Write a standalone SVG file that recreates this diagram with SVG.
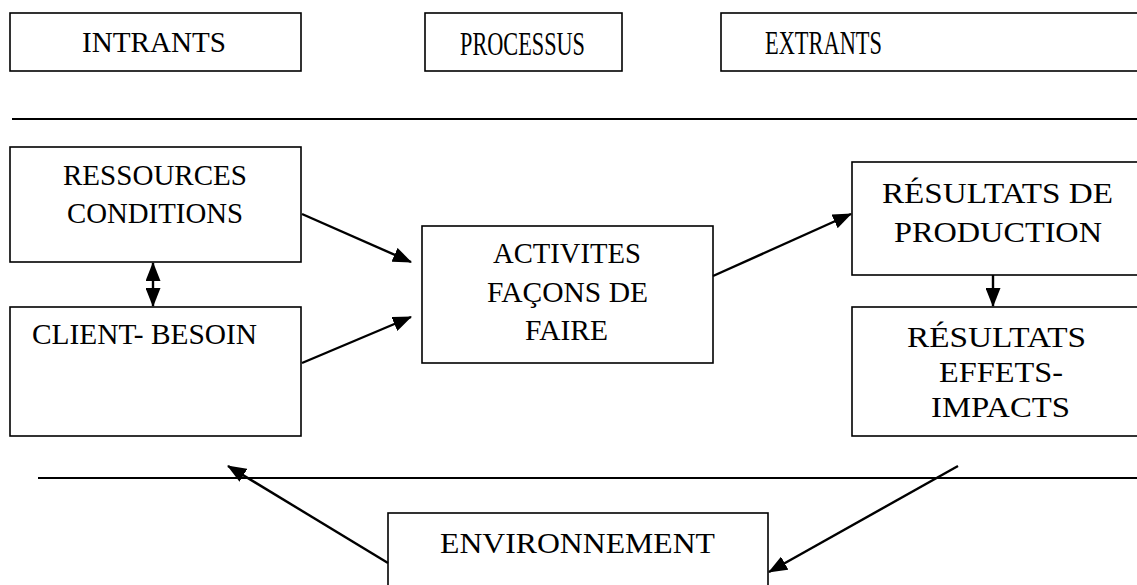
<svg xmlns="http://www.w3.org/2000/svg" width="1137" height="585" viewBox="0 0 1137 585">
  <style>
    .box { fill: #ffffff; stroke: #000000; stroke-width: 1.6; }
    .rule { stroke: #000000; stroke-width: 2.2; }
    .lbl { font-family: "Liberation Serif", "Times New Roman", serif; font-size: 30px; fill: #000000; }
    .tall { font-size: 33px; }
    .arrow { stroke: #000000; stroke-width: 2.4; fill: none; marker-end: url(#head); }
    .arrow2 { stroke: #000000; stroke-width: 2.4; fill: none; marker-end: url(#head); marker-start: url(#headStart); }
  </style>
  <defs>
    <marker id="head" markerUnits="userSpaceOnUse" markerWidth="19" markerHeight="15" viewBox="0 0 19 15" refX="18" refY="7.5" orient="auto">
      <path d="M0,0 L19,7.5 L0,15 Z" fill="#000000"/>
    </marker>
    <marker id="headStart" markerUnits="userSpaceOnUse" markerWidth="19" markerHeight="15" viewBox="0 0 19 15" refX="1" refY="7.5" orient="auto">
      <path d="M19,0 L0,7.5 L19,15 Z" fill="#000000"/>
    </marker>
  </defs>

  <rect width="1137" height="585" fill="#ffffff"/>

  <!-- column headers -->
  <g id="intrants">
    <rect class="box" x="10" y="13" width="291" height="58"/>
    <text class="lbl" x="82" y="52" textLength="144" lengthAdjust="spacingAndGlyphs">INTRANTS</text>
  </g>
  <g id="processus">
    <rect class="box" x="425" y="13" width="197" height="58"/>
    <text class="lbl tall" x="460" y="55" textLength="125" lengthAdjust="spacingAndGlyphs">PROCESSUS</text>
  </g>
  <g id="extrants">
    <rect class="box" x="721" y="13" width="430" height="58"/>
    <text class="lbl tall" x="765" y="54" textLength="117" lengthAdjust="spacingAndGlyphs">EXTRANTS</text>
  </g>

  <!-- separators -->
  <line class="rule" x1="12" y1="119" x2="1137" y2="119"/>
  <line class="rule" x1="38" y1="478" x2="1137" y2="478"/>

  <!-- inputs -->
  <g id="ressources">
    <rect class="box" x="10" y="147" width="291" height="115"/>
    <text class="lbl" x="63" y="185" textLength="184" lengthAdjust="spacingAndGlyphs">RESSOURCES</text>
    <text class="lbl" x="67" y="223" textLength="176" lengthAdjust="spacingAndGlyphs">CONDITIONS</text>
  </g>
  <g id="client">
    <rect class="box" x="10" y="307" width="291" height="129"/>
    <text class="lbl" x="32" y="344" textLength="225" lengthAdjust="spacingAndGlyphs">CLIENT- BESOIN</text>
  </g>

  <!-- process -->
  <g id="activites">
    <rect class="box" x="422" y="226" width="291" height="137"/>
    <text class="lbl" x="493" y="263" textLength="148" lengthAdjust="spacingAndGlyphs">ACTIVITES</text>
    <text class="lbl" x="487" y="302" textLength="161" lengthAdjust="spacingAndGlyphs">FAÇONS DE</text>
    <text class="lbl" x="525" y="340" textLength="83" lengthAdjust="spacingAndGlyphs">FAIRE</text>
  </g>

  <!-- outputs -->
  <g id="resultats-production">
    <rect class="box" x="852" y="162" width="300" height="113"/>
    <text class="lbl" x="882" y="203" textLength="231" lengthAdjust="spacingAndGlyphs">RÉSULTATS DE</text>
    <text class="lbl" x="894" y="242" textLength="208" lengthAdjust="spacingAndGlyphs">PRODUCTION</text>
  </g>
  <g id="resultats-effets">
    <rect class="box" x="852" y="307" width="300" height="129"/>
    <text class="lbl" x="907" y="347" textLength="179" lengthAdjust="spacingAndGlyphs">RÉSULTATS</text>
    <text class="lbl" x="939" y="382" textLength="124" lengthAdjust="spacingAndGlyphs">EFFETS-</text>
    <text class="lbl" x="931" y="417" textLength="139" lengthAdjust="spacingAndGlyphs">IMPACTS</text>
  </g>

  <!-- environment -->
  <g id="environnement">
    <rect class="box" x="388" y="513" width="380" height="100"/>
    <text class="lbl" x="440" y="553" textLength="275" lengthAdjust="spacingAndGlyphs">ENVIRONNEMENT</text>
  </g>

  <!-- connectors -->
  <g id="connectors">
    <line class="arrow" x1="302" y1="214" x2="411" y2="262"/>
    <line class="arrow" x1="302" y1="363" x2="411" y2="317"/>
    <line class="arrow" x1="713" y1="276" x2="851" y2="214"/>
    <line class="arrow" x1="993" y1="275" x2="993" y2="306"/>
    <line class="arrow2" x1="153" y1="263" x2="153" y2="306"/>
    <line class="arrow" x1="388" y1="563" x2="228" y2="466"/>
    <line class="arrow" x1="958" y1="466" x2="769" y2="572"/>
  </g>
</svg>
